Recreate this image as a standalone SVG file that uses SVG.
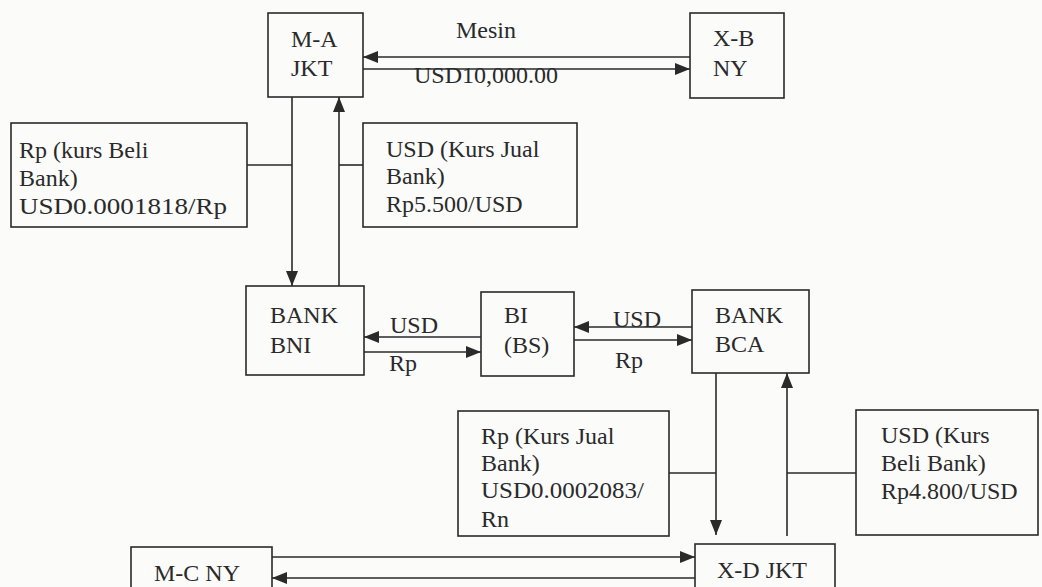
<svg xmlns="http://www.w3.org/2000/svg" width="1042" height="587" viewBox="0 0 1042 587">
<style>
.box{fill:none;stroke:#2a2a2a;stroke-width:1.6}
.t{font-family:"Liberation Serif","Times New Roman",serif;font-size:24px;fill:#2a2a2a}
.c{fill:none;stroke:#2a2a2a;stroke-width:1.6}
</style>
<defs>
<marker id="ah" markerUnits="userSpaceOnUse" markerWidth="16" markerHeight="12" refX="15" refY="6" orient="auto">
<path d="M0,0 L15,6 L0,12 Z" fill="#2a2a2a"/>
</marker>
</defs>
<rect width="1042" height="587" fill="#fbfbfa"/>
<g id="ma"><rect class="box" x="268" y="13" width="95" height="84"/><text class="t" x="291" y="47">M-A</text><text class="t" x="291" y="76">JKT</text></g>
<g id="xb"><rect class="box" x="690" y="13" width="94" height="85"/><text class="t" x="713" y="46">X-B</text><text class="t" x="713" y="76">NY</text></g>
<g id="kbeli"><rect class="box" x="11" y="123" width="236" height="104"/><text class="t" x="19" y="158">Rp (kurs Beli</text><text class="t" x="19" y="186">Bank)</text><text class="t" x="19" y="214" textLength="208" lengthAdjust="spacingAndGlyphs">USD0.0001818/Rp</text></g>
<g id="kjual"><rect class="box" x="363" y="123" width="214" height="104"/><text class="t" x="386" y="157">USD (Kurs Jual</text><text class="t" x="386" y="184">Bank)</text><text class="t" x="386" y="212">Rp5.500/USD</text></g>
<g id="bni"><rect class="box" x="246" y="286" width="118" height="89"/><text class="t" x="270" y="323">BANK</text><text class="t" x="270" y="353">BNI</text></g>
<g id="bi"><rect class="box" x="481" y="292" width="93" height="84"/><text class="t" x="504" y="323">BI</text><text class="t" x="504" y="353">(BS)</text></g>
<g id="bca"><rect class="box" x="692" y="290" width="117" height="83"/><text class="t" x="715" y="323">BANK</text><text class="t" x="715" y="352">BCA</text></g>
<g id="kjual2"><rect class="box" x="458" y="411" width="211" height="125"/><text class="t" x="481" y="444">Rp (Kurs Jual</text><text class="t" x="481" y="471">Bank)</text><text class="t" x="481" y="498" textLength="163" lengthAdjust="spacingAndGlyphs">USD0.0002083/</text><text class="t" x="481" y="527">Rn</text></g>
<g id="kbeli2"><rect class="box" x="856" y="410" width="182" height="125"/><text class="t" x="881" y="443">USD (Kurs</text><text class="t" x="881" y="471">Beli Bank)</text><text class="t" x="881" y="499">Rp4.800/USD</text></g>
<g id="mc"><rect class="box" x="131" y="547" width="141" height="60"/><text class="t" x="154" y="581">M-C NY</text></g>
<g id="xd"><rect class="box" x="695" y="544" width="140" height="63"/><text class="t" x="717" y="578">X-D JKT</text></g>
<g id="connectors">
<line class="c" x1="690" y1="57" x2="363" y2="57" marker-end="url(#ah)"/>
<line class="c" x1="363" y1="69" x2="690" y2="69" marker-end="url(#ah)"/>
<line class="c" x1="292" y1="97" x2="292" y2="286" marker-end="url(#ah)"/>
<line class="c" x1="339" y1="286" x2="339" y2="97" marker-end="url(#ah)"/>
<line class="c" x1="247" y1="165" x2="292" y2="165"/>
<line class="c" x1="339" y1="165" x2="363" y2="165"/>
<line class="c" x1="481" y1="337" x2="364" y2="337" marker-end="url(#ah)"/>
<line class="c" x1="364" y1="352" x2="481" y2="352" marker-end="url(#ah)"/>
<line class="c" x1="692" y1="327" x2="574" y2="327" marker-end="url(#ah)"/>
<line class="c" x1="574" y1="340" x2="692" y2="340" marker-end="url(#ah)"/>
<line class="c" x1="716" y1="373" x2="716" y2="535" marker-end="url(#ah)"/>
<line class="c" x1="787" y1="536" x2="787" y2="373" marker-end="url(#ah)"/>
<line class="c" x1="669" y1="473" x2="716" y2="473"/>
<line class="c" x1="787" y1="473" x2="856" y2="473"/>
<line class="c" x1="272" y1="557" x2="695" y2="557" marker-end="url(#ah)"/>
<line class="c" x1="695" y1="578" x2="272" y2="578" marker-end="url(#ah)"/>
<text class="t" x="456" y="38">Mesin</text>
<text class="t" x="414" y="83">USD10,000.00</text>
<text class="t" x="390" y="333">USD</text>
<text class="t" x="389" y="371">Rp</text>
<text class="t" x="613" y="327">USD</text>
<text class="t" x="615" y="368">Rp</text>
</g>
</svg>
